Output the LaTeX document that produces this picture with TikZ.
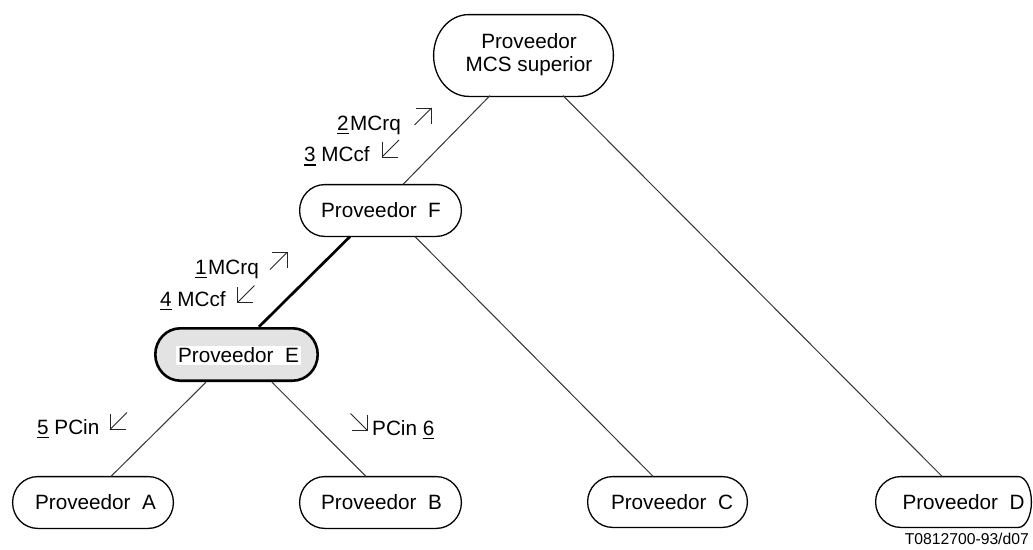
\documentclass[tikz,border=0pt]{standalone}
\usepackage{fontspec}
\setmainfont{Liberation Sans}
% capsule: opts, x left, x right, y top, y bottom (pixels, y down), left rx, right rx
\newcommand\capsule[7]{%
  \draw[#1] ({#2+#6},{-(#4)}) -- ({#3-#7},{-(#4)})
    arc[start angle=90,end angle=-90,x radius=#7,y radius={(#5-#4)/2}]
    -- ({#2+#6},{-(#5)})
    arc[start angle=270,end angle=90,x radius=#6,y radius={(#5-#4)/2}] -- cycle;}
\newcommand\unum[1]{\setbox0\hbox{#1}\rlap{\rule[-4.2pt]{\wd0}{1.6pt}}\box0\relax}
\begin{document}
\begin{tikzpicture}[x=1pt,y=1pt,
  ptext/.style={font=\fontsize{20.7}{23.5}\selectfont, align=center, inner sep=0pt},
  lbl/.style={font=\fontsize{20.7}{23.5}\selectfont, inner sep=0pt, anchor=base west},
  idtext/.style={font=\fontsize{15.7}{18}\selectfont, inner sep=0pt, anchor=base east},
  capline/.style={line width=1.3pt},
  conn/.style={line width=1pt, draw=black!80},
  thickconn/.style={line width=2.7pt, draw=black},
  arr/.style={line width=1pt, draw=black!85},
  pics/ne/.style={code={\draw[arr] (-8.5,-8.5) -- (8.5,8.5); \draw[arr] (-7,8.5) -- (8.5,8.5) -- (8.5,-7);}},
  pics/sw/.style={code={\draw[arr] (8.5,8.5) -- (-8.5,-8.5); \draw[arr] (-8.5,7) -- (-8.5,-8.5) -- (7,-8.5);}},
  pics/se/.style={code={\draw[arr] (-8.5,8.5) -- (8.5,-8.5); \draw[arr] (-7,-8.5) -- (8.5,-8.5) -- (8.5,7);}}
]
\useasboundingbox (0,0) rectangle (1033,-549);

% capsules
\capsule{capline}{433.6}{613.4}{14.6}{96.4}{35}{35}
\capsule{capline}{299.6}{461.4}{184.6}{236.4}{25}{25}
\capsule{line width=2.6pt, fill=black!11}{155.3}{317.7}{328.3}{380.7}{25}{25}
\capsule{capline}{12.6}{173.4}{476.6}{528.4}{25}{25}
\capsule{capline}{299.6}{461.4}{476.6}{528.4}{25}{25}
\capsule{capline}{587.6}{747.4}{476.6}{527.4}{25}{25}
\capsule{capline}{875.6}{1031.4}{476.6}{527.4}{25}{13}

% nodes
\node[ptext, minimum height=81.8pt] (sup) at (529,-54.5) {Proveedor\\MCS superior};
\node[ptext, minimum height=51.8pt] (F) at (381,-210.5) {Proveedor\ \ F};
\node[ptext, minimum height=55pt] (E) at (238.5,-354.5) {};
\node[ptext, fill=white, inner sep=2pt] (Et) at (238.5,-355.5) {Proveedor\ \ E};
\node[ptext, minimum height=51.8pt] (A) at (95.5,-502.5) {Proveedor\ \ A};
\node[ptext, minimum height=51.8pt] (B) at (381.5,-502.5) {Proveedor\ \ B};
\node[ptext, minimum height=51pt] (C) at (672,-502) {Proveedor\ \ C};
\node[ptext, minimum height=51pt] (D) at (963.5,-502) {Proveedor\ \ D};

% connectors
\draw[conn] ([xshift=-39pt]sup.south) -- ([xshift=22pt]F.north);
\draw[conn] ([xshift=34pt]sup.south) -- ([xshift=-21.5pt]D.north);
\draw[thickconn] ([xshift=-31pt]F.south) -- ([xshift=20.5pt]E.north);
\draw[conn] ([xshift=34pt]F.south) -- ([xshift=-19pt]C.north);
\draw[conn] ([xshift=-32.5pt]E.south) -- ([xshift=15.5pt]A.north);
\draw[conn] ([xshift=33.5pt]E.south) -- ([xshift=-15.5pt]B.north);

% message labels
\node[lbl] (l2) at (337,-130) {\unum{2}\hspace{1.5pt}MCrq};
\pic at (423,-116.5) {ne};
\node[lbl] (l3) at (304,-161.5) {\unum{3} MCcf};
\pic at (390.5,-148.5) {sw};
\node[lbl] (l1) at (195,-274) {\unum{1}\hspace{1.5pt}MCrq};
\pic at (278.5,-261) {ne};
\node[lbl] (l4) at (160,-306) {\unum{4} MCcf};
\pic at (246,-294) {sw};
\node[lbl] (l5) at (37,-434) {\unum{5} PCin};
\pic at (118.5,-421) {sw};
\node[lbl] (l6) at (372,-435) {PCin \unum{6}};
\pic at (359,-422) {se};

\node[idtext] (id) at (1029,-544.5) {T0812700-93/d07};
\end{tikzpicture}
\end{document}
